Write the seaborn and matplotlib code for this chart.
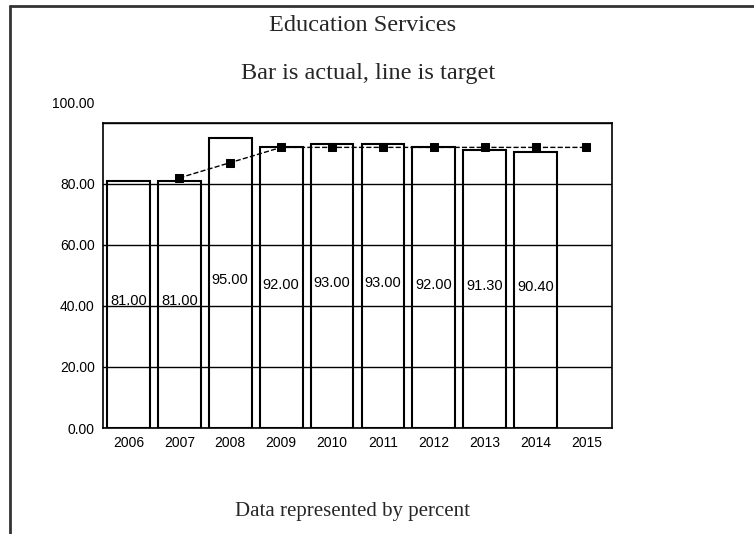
import numpy as np
import pandas as pd
import matplotlib
matplotlib.use("Agg")
import matplotlib.pyplot as plt
import matplotlib.transforms as mtransforms
from matplotlib.lines import Line2D
import seaborn as sns

years = ["2006", "2007", "2008", "2009", "2010", "2011", "2012", "2013", "2014", "2015"]
actual = [81.00, 81.00, 95.00, 92.00, 93.00, 93.00, 92.00, 91.30, 90.40, np.nan]
target = [np.nan, 82.0, 87.0, 92.0, 92.0, 92.0, 92.0, 92.0, 92.0, 92.0]
yticks = [0, 20, 40, 60, 80, 100]

sns.set_theme(style="white")
plt.rcParams["font.family"] = ["Liberation Sans", "DejaVu Sans"]

df = pd.DataFrame({"year": years, "actual": actual, "target": target})

fig = plt.figure(figsize=(7.54, 5.34), dpi=100)
ax = fig.add_axes([0.1366, 0.1985, 0.675, 0.5712])

ax.yaxis.grid(True, color="black", linewidth=1.0)
ax.set_axisbelow(False)

sns.barplot(data=df, x="year", y="actual", order=years, color="black",
            fill=False, linewidth=1.5, width=0.84, errorbar=None,
            saturation=1, ax=ax, zorder=2)
sns.pointplot(data=df, x="year", y="target", order=years, color="black",
              markers="s", linestyles="--", markersize=6, linewidth=1.0,
              errorbar=None, ax=ax, zorder=4)

# value labels near mid-height of each bar
for i, v in enumerate(actual):
    if not np.isnan(v):
        ax.text(i, v / 2 + 1, f"{v:.2f}", ha="center", va="center",
                fontsize=10.5, color="black", zorder=5)

ax.set_ylim(0, 100)
ax.set_xlim(-0.5, 9.5)
ax.set_yticks(yticks)
ax.set_yticklabels([f"{t:.2f}" for t in yticks])
ax.set_xlabel("")
ax.set_ylabel("")
ax.tick_params(axis="both", length=0, labelsize=10, colors="black", pad=6)
for s in ax.spines.values():
    s.set_visible(True)
    s.set_color("black")
    s.set_linewidth(1.2)

# top tick label sits a bit higher in the reference
lbl = ax.get_yticklabels()[-1]
lbl.set_transform(lbl.get_transform() + mtransforms.ScaledTranslation(0, 0.2, fig.dpi_scale_trans))

fig.text(0.481, 0.952, "Education Services", ha="center", va="center",
         fontsize=17.5, family=["Liberation Serif"])
fig.text(0.488, 0.862, "Bar is actual, line is target", ha="center", va="center",
         fontsize=17.5, family=["Liberation Serif"])
fig.text(0.467, 0.042, "Data represented by percent", ha="center", va="center",
         fontsize=15, family=["Liberation Serif"])

# outer frame lines
fig.add_artist(Line2D([0.0133, 0.0133], [0.0, 0.989], transform=fig.transFigure,
                      color="#333333", linewidth=2))
fig.add_artist(Line2D([0.0133, 1.0], [0.989, 0.989], transform=fig.transFigure,
                      color="#333333", linewidth=2))

fig.savefig("out.png", dpi=100, facecolor="white")
